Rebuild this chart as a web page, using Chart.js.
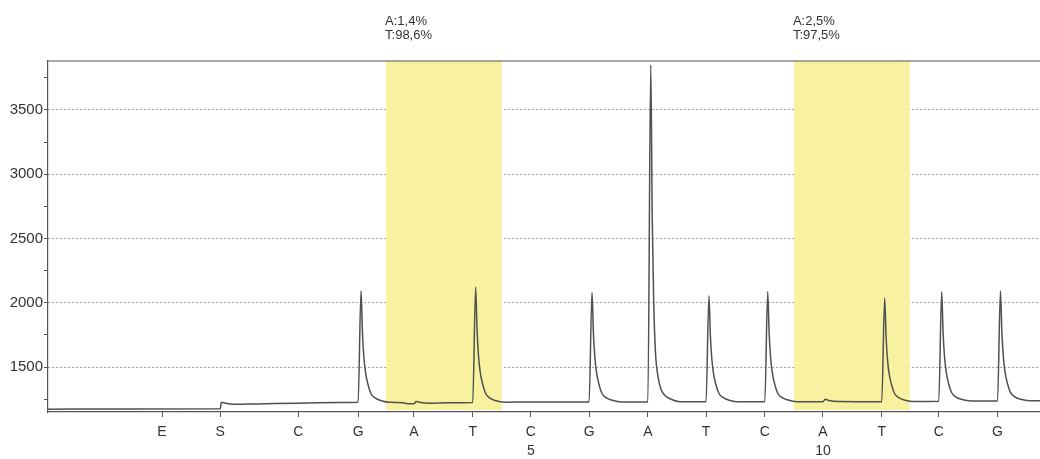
<!DOCTYPE html>
<html>
<head>
<meta charset="utf-8">
<script src="https://cdn.jsdelivr.net/npm/chart.js@4"></script>
<style>
  html, body { margin: 0; padding: 0; background: #fff; }
  #wrap { width: 1040px; height: 459px; }
</style>
</head>
<body>
<div id="wrap"><canvas id="pyrogram" width="1040" height="459"></canvas></div>
<script>
// dispensation order and where each one sits on the time axis
const dispTimes = [1.96, 2.96, 4.30, 5.33, 6.29, 7.30, 8.30, 9.30, 10.31, 11.31, 12.32, 13.32, 14.33, 15.31, 16.32];
const dispLabels = ["E", "S", "C", "G", "A", "T", ["C", "5"], "G", "A", "T", "C", ["A", "10"], "T", "C", "G"];

const yTickValues = [1250, 1500, 1750, 2000, 2250, 2500, 2750, 3000, 3250, 3500, 3750];
const yLabelled = [1500, 2000, 2500, 3000, 3500];

// variable positions (yellow bands) and their allele results
const bandStarts = [5.81, 12.82];
const bandEnds = [7.80, 14.81];
const bandTextA = ["A:1,4%", "A:2,5%"];
const bandTextT = ["T:98,6%", "T:97,5%"];

// light signal
const traceTime = [
    0.00, 1.50, 2.96, 2.98, 3.05, 3.20, 3.60, 4.30, 5.00,
    5.33, 5.38, 5.405, 5.43, 5.46, 5.50, 5.55, 5.62, 5.73, 5.88,
    6.10, 6.20, 6.29, 6.33, 6.40, 6.55, 6.90,
    7.30, 7.35, 7.375, 7.40, 7.43, 7.47, 7.52, 7.59, 7.70, 7.85,
    8.30,
    9.30, 9.35, 9.375, 9.40, 9.43, 9.47, 9.52, 9.59, 9.70, 9.85,
    10.31, 10.36, 10.385, 10.41, 10.44, 10.48, 10.53, 10.60, 10.71, 10.86,
    11.31, 11.36, 11.385, 11.41, 11.44, 11.48, 11.53, 11.60, 11.71, 11.86,
    12.32, 12.37, 12.395, 12.42, 12.45, 12.49, 12.54, 12.61, 12.72, 12.87,
    13.32, 13.36, 13.42, 13.60,
    14.33, 14.38, 14.405, 14.43, 14.46, 14.50, 14.55, 14.62, 14.73, 14.88,
    15.31, 15.36, 15.385, 15.41, 15.44, 15.48, 15.53, 15.60, 15.71, 15.86,
    16.32, 16.37, 16.395, 16.42, 16.45, 16.49, 16.54, 16.61, 16.72, 16.87,
    17.05
];
const traceSignal = [
    1172, 1173, 1175, 1226, 1218, 1210, 1213, 1219, 1223,
    1225, 2093, 1763, 1572, 1451, 1364, 1294, 1260, 1238, 1225,
    1222, 1214, 1215, 1232, 1224, 1218, 1222,
    1224, 2122, 1781, 1583, 1457, 1368, 1296, 1260, 1237, 1226,
    1228,
    1228, 2080, 1756, 1569, 1450, 1364, 1296, 1262, 1241, 1228,
    1228, 3850, 2670, 2015, 1621, 1438, 1333, 1280, 1249, 1230,
    1230, 2054, 1741, 1560, 1444, 1362, 1296, 1263, 1242, 1230,
    1230, 2085, 1760, 1572, 1452, 1367, 1298, 1264, 1243, 1230,
    1229, 1250, 1240, 1232,
    1230, 2036, 1730, 1552, 1440, 1359, 1294, 1262, 1242, 1232,
    1234, 2085, 1762, 1574, 1455, 1370, 1302, 1268, 1247, 1236,
    1236, 2093, 1767, 1579, 1459, 1373, 1305, 1270, 1249, 1238,
    1238
];

const FONT = "'Liberation Sans', Arial, sans-serif";

const bandPlugin = {
    id: "bands",
    beforeDatasetsDraw(chart) {
        const { ctx, chartArea, scales } = chart;
        ctx.save();
        ctx.fillStyle = "#f8f2a0";
        bandStarts.forEach((s, i) => {
            const x1 = scales.x.getPixelForValue(s);
            const x2 = scales.x.getPixelForValue(bandEnds[i]);
            ctx.fillRect(x1, chartArea.top, x2 - x1, chartArea.bottom - chartArea.top - 2);
        });
        ctx.restore();
    },
    afterDraw(chart) {
        const { ctx, chartArea, scales } = chart;
        ctx.save();
        // top frame line
        ctx.strokeStyle = "#555";
        ctx.lineWidth = 1.2;
        ctx.beginPath();
        ctx.moveTo(chartArea.left, chartArea.top);
        ctx.lineTo(chartArea.right, chartArea.top);
        ctx.stroke();
        // allele percentages above the bands
        ctx.fillStyle = "#333";
        ctx.font = "13px " + FONT;
        ctx.textAlign = "left";
        ctx.textBaseline = "middle";
        bandStarts.forEach((s, i) => {
            const x = scales.x.getPixelForValue(s) - 1;
            ctx.fillText(bandTextA[i], x, chartArea.top - 40);
            ctx.fillText(bandTextT[i], x, chartArea.top - 26);
        });
        ctx.restore();
    }
};

new Chart(document.getElementById("pyrogram"), {
    type: "line",
    data: {
        datasets: [{
            data: traceTime.map((t, i) => ({ x: t, y: traceSignal[i] })),
            borderColor: "#505050",
            borderWidth: 1.5,
            pointRadius: 0,
            cubicInterpolationMode: "monotone",
            fill: false
        }]
    },
    options: {
        responsive: false,
        animation: false,
        devicePixelRatio: 1,
        layout: { padding: { top: 61, right: 0, left: 0, bottom: 0 } },
        plugins: {
            legend: { display: false },
            tooltip: { enabled: false }
        },
        scales: {
            x: {
                type: "linear",
                min: 0,
                max: 17.05,
                afterBuildTicks: scale => { scale.ticks = dispTimes.map(v => ({ value: v })); },
                afterFit: scale => { scale.height = 47; },
                ticks: {
                    autoSkip: false,
                    maxRotation: 0,
                    padding: 6,
                    color: "#333",
                    font: { family: FONT, size: 14, lineHeight: 1.35 },
                    callback: (v, i) => dispLabels[i]
                },
                grid: { drawOnChartArea: false, tickLength: 5, tickColor: "#555" },
                border: { color: "#555", width: 1.2 }
            },
            y: {
                min: 1150,
                max: 3880,
                afterBuildTicks: scale => { scale.ticks = yTickValues.map(v => ({ value: v })); },
                afterFit: scale => { scale.width = 48; },
                ticks: {
                    padding: 1,
                    color: "#333",
                    font: { family: FONT, size: 15 },
                    callback: v => yLabelled.includes(v) ? String(v) : ""
                },
                grid: {
                    color: ctx => (ctx.tick && yLabelled.includes(ctx.tick.value)) ? "#9a9a9a" : "rgba(0,0,0,0)",
                    tickColor: "#555",
                    tickLength: 4,
                    lineWidth: 1
                },
                border: { color: "#555", width: 1.2, dash: [2, 2] }
            }
        }
    },
    plugins: [bandPlugin]
});
</script>
</body>
</html>
